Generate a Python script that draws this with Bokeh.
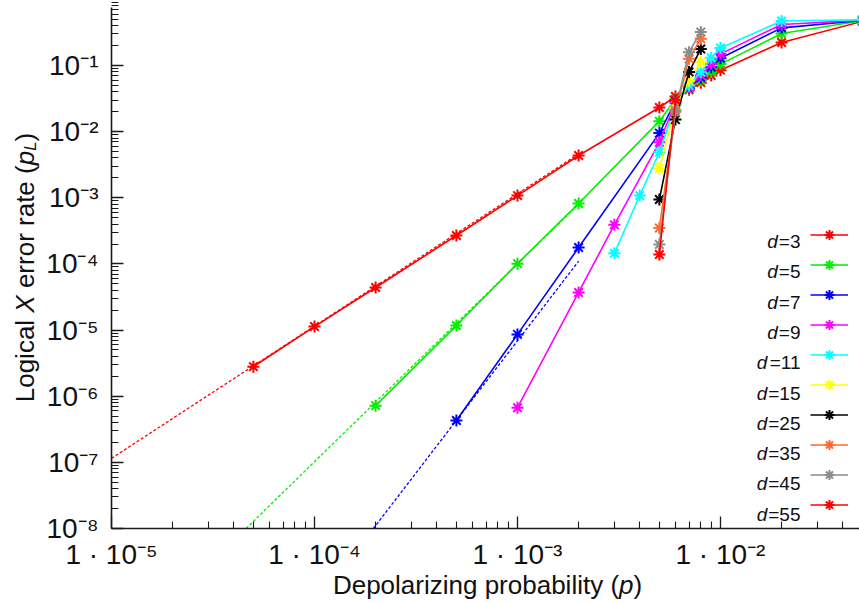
import math
from bokeh.plotting import figure
from bokeh.models import FixedTicker, CustomJSTickFormatter, Label, Legend, LegendItem
from bokeh.embed import file_html
from bokeh.resources import INLINE

FONT = "Liberation Sans"

# ---------------- data ----------------
x_ticks = [1e-5, 1e-4, 1e-3, 1e-2]
x_tick_labels = ["1 · 10⁻⁵", "1 · 10⁻⁴", "1 · 10⁻³", "1 · 10⁻²"]
y_ticks = [1e-8, 1e-7, 1e-6, 1e-5, 1e-4, 1e-3, 1e-2, 1e-1]
y_tick_labels = ["10⁻⁸", "10⁻⁷", "10⁻⁶", "10⁻⁵", "10⁻⁴", "10⁻³", "10⁻²", "10⁻¹"]

d3_p = [5e-5, 1e-4, 2e-4, 5e-4, 1e-3, 2e-3, 5e-3, 6e-3, 7e-3, 8e-3, 9e-3, 1e-2, 2e-2, 5e-2]
d3_pl = [2.8e-6, 1.13e-5, 4.4e-5, 2.69e-4, 1.08e-3, 4.36e-3, 2.32e-2, 3.4e-2, 4.3e-2, 5.5e-2, 7.06e-2, 8.5e-2, 0.223, 0.465]

d5_p = [2e-4, 5e-4, 1e-3, 2e-3, 5e-3, 6e-3, 7e-3, 8e-3, 9e-3, 1e-2, 2e-2, 5e-2]
d5_pl = [7.2e-7, 1.17e-5, 1.01e-4, 8.2e-4, 1.44e-2, 3.1e-2, 4.5e-2, 6.0e-2, 8.0e-2, 0.105, 0.305, 0.475]

d7_p = [5e-4, 1e-3, 2e-3, 5e-3, 6e-3, 7e-3, 8e-3, 9e-3, 1e-2, 2e-2, 5e-2]
d7_pl = [4.3e-7, 8.6e-6, 1.77e-4, 9.5e-3, 2.9e-2, 4.6e-2, 6.6e-2, 9.4e-2, 0.129, 0.371, 0.48]

d9_p = [1e-3, 2e-3, 3e-3, 5e-3, 6e-3, 7e-3, 8e-3, 9e-3, 1e-2, 2e-2, 5e-2]
d9_pl = [6.7e-7, 3.7e-5, 3.9e-4, 6.9e-3, 2.7e-2, 4.7e-2, 7.1e-2, 0.106, 0.150, 0.417, 0.485]

d11_p = [3e-3, 4e-3, 5e-3, 6e-3, 7e-3, 8e-3, 9e-3, 1e-2, 2e-2, 5e-2]
d11_pl = [1.45e-4, 1.08e-3, 4.9e-3, 2.5e-2, 5.0e-2, 7.9e-2, 0.131, 0.184, 0.471, 0.49]

d15_p = [5e-3, 6e-3, 7e-3, 8e-3]
d15_pl = [2.8e-3, 2.3e-2, 5.9e-2, 0.113]

d25_p = [5e-3, 6e-3, 7e-3, 8e-3]
d25_pl = [9.4e-4, 1.52e-2, 8.0e-2, 0.178]

d35_p = [5e-3, 6e-3, 7e-3, 8e-3]
d35_pl = [3.5e-4, 2.0e-2, 0.126, 0.253]

d45_p = [5e-3, 6e-3, 7e-3, 8e-3]
d45_pl = [1.97e-4, 2.1e-2, 0.159, 0.321]

d55_p = [5e-3, 6e-3]
d55_pl = [1.39e-4, 3.0e-2]

# dashed low-p fits (end points)
fit3_p = [1e-5, 2e-3]
fit3_pl = [1.15e-7, 4.6e-3]
fit5_p = [4.6e-5, 2e-3]
fit5_pl = [1e-8, 8.0e-4]
fit7_p = [1.95e-4, 2e-3]
fit7_pl = [1e-8, 1.1e-4]

distances = [3, 5, 7, 9, 11, 15, 25, 35, 45, 55]
colors = ["#ff0000", "#00ee00", "#0000ff", "#ff00ff", "#00ffff",
          "#ffff00", "#000000", "#ff6a2e", "#8c8c8c", "#ff0000"]
series = [(d3_p, d3_pl), (d5_p, d5_pl), (d7_p, d7_pl), (d9_p, d9_pl), (d11_p, d11_pl),
          (d15_p, d15_pl), (d25_p, d25_pl), (d35_p, d35_pl), (d45_p, d45_pl), (d55_p, d55_pl)]
fits = [(fit3_p, fit3_pl, colors[0]), (fit5_p, fit5_pl, colors[1]), (fit7_p, fit7_pl, colors[2])]

# axis extents (the axes themselves), and the visible window around them
X_AX = (1e-5, 0.0484)
Y_AX = (1e-8, 0.75)

# ---------------- figure ----------------
p = figure(width=859, height=603, x_axis_type="log", y_axis_type="log",
           x_range=(10 ** -5.5468, X_AX[1]), y_range=(10 ** -9.134, 10 ** -0.01724),
           output_backend="svg", toolbar_location=None,
           min_border_left=0, min_border_right=0, min_border_top=0, min_border_bottom=0)
p.outline_line_color = None
p.xgrid.visible = False
p.ygrid.visible = False
p.background_fill_color = "white"
p.border_fill_color = "white"

x_minor = [m * 10.0 ** e for e in range(-5, -1) for m in range(2, 10)]
y_minor = [m * 10.0 ** e for e in range(-8, 0) for m in range(2, 10)]
p.xaxis.ticker = FixedTicker(ticks=x_ticks, minor_ticks=x_minor)
p.yaxis.ticker = FixedTicker(ticks=y_ticks, minor_ticks=y_minor)
p.xaxis.fixed_location = Y_AX[0]
p.yaxis.fixed_location = X_AX[0]
p.xaxis.bounds = X_AX
p.yaxis.bounds = Y_AX

fmt_code = """
let best = -1, bd = 1e9;
for (let i = 0; i < tvals.length; i++) {
  const dd = Math.abs(Math.log10(tvals[i]) - Math.log10(tick));
  if (dd < bd) { bd = dd; best = i; }
}
return (bd < 1e-6) ? tlabels[best] : "";
"""
p.xaxis.formatter = CustomJSTickFormatter(args=dict(tvals=x_ticks, tlabels=x_tick_labels), code=fmt_code)
p.yaxis.formatter = CustomJSTickFormatter(args=dict(tvals=y_ticks, tlabels=y_tick_labels), code=fmt_code)

for ax in (p.xaxis[0], p.yaxis[0]):
    ax.axis_line_color = "#1a1a1a"
    ax.axis_line_width = 1.6
    ax.major_tick_line_color = "#1a1a1a"
    ax.minor_tick_line_color = "#1a1a1a"
    ax.major_tick_line_width = 1.3
    ax.minor_tick_line_width = 1.1
    ax.major_tick_in = 12
    ax.major_tick_out = 0
    ax.minor_tick_in = 7
    ax.minor_tick_out = 0
    ax.major_label_text_font = FONT
    ax.major_label_text_font_size = "28px"
    ax.major_label_text_color = "#111111"
p.xaxis.major_label_standoff = 11
p.yaxis.major_label_standoff = 13

# dashed fits
for fx, fy, c in fits:
    p.line(fx, fy, line_color=c, line_width=1.3, line_dash="3 2")

items = []
for d, (sx, sy), c in zip(distances, series, colors):
    lr = p.line(sx, sy, line_color=c, line_width=1.6)
    mr = p.scatter(sx, sy, marker="asterisk", size=12, line_color=c, line_width=2.0)
    items.append(LegendItem(label=" ", renderers=[lr, mr]))

legend = Legend(items=items, location=(810, 86), orientation="vertical",
                glyph_width=38, glyph_height=25, spacing=5,
                label_width=0, label_standoff=0, label_height=25,
                label_text_font_size="1px", padding=0, margin=0,
                border_line_color=None, background_fill_alpha=0)
p.add_layout(legend)

# ---------------- text with mixed styles ----------------
W = {' ': 278, 'D': 722, 'e': 556, 'p': 556, 'o': 556, 'l': 222, 'a': 556, 'r': 333,
     'i': 222, 'z': 500, 'n': 556, 'g': 556, 'b': 556, 't': 278, 'y': 500, '(': 333,
     ')': 333, 'L': 556, 'c': 500, 'X': 667, 'd': 556, '=': 584}
for ch in "0123456789":
    W[ch] = 556


def tw(s, size):
    return sum(W.get(ch, 556) for ch in s) * size / 1000.0


def pieces_row(pieces, x0, y0, vertical=False):
    # pieces: (text, style, size, baseline_shift)
    off = 0.0
    for text, style, size, shift in pieces:
        lead = len(text) - len(text.lstrip(" "))
        off += tw(" " * lead, size)
        t = text.strip(" ")
        if vertical:
            lab = Label(x=x0 + shift, y=y0 + off, x_units="screen", y_units="screen", text=t,
                        angle=math.pi / 2, text_align="left", text_baseline="alphabetic",
                        text_font=FONT, text_font_size=f"{size}px", text_font_style=style,
                        text_color="#111111")
        else:
            lab = Label(x=x0 + off, y=y0 - shift, x_units="screen", y_units="screen", text=t,
                        text_align="left", text_baseline="alphabetic",
                        text_font=FONT, text_font_size=f"{size}px", text_font_style=style,
                        text_color="#111111")
        p.add_layout(lab)
        off += tw(t, size) + tw(" " * (len(text) - len(text.rstrip(" "))), size)


TS = 26
xt = [("Depolarizing probability (", "normal", TS, 0), ("p", "italic", TS, 0), (")", "normal", TS, 0)]
xt_w = sum(tw(t, s) for t, _, s, _ in xt)
pieces_row(xt, 487 - xt_w / 2, 19)

yt = [("Logical ", "normal", TS, 0), ("X", "italic", TS, 0), (" error rate (", "normal", TS, 0),
      ("p", "italic", TS, 0), ("L", "italic", 17, 6), (")", "normal", TS, 0)]
yt_w = sum(tw(t, s) for t, _, s, _ in yt)
pieces_row(yt, 24, 336 - yt_w / 2, vertical=True)

# legend labels  "d=3" etc.
LS = 19
for i, d in enumerate(distances):
    eq = "=" + str(d)
    yb = 362 - 30.3 * i
    p.add_layout(Label(x=800, y=yb, x_units="screen", y_units="screen", text=eq,
                       text_align="right", text_baseline="alphabetic", text_font=FONT,
                       text_font_size=f"{LS}px", text_color="#111111"))
    p.add_layout(Label(x=800 - tw(eq, LS) - 1, y=yb, x_units="screen", y_units="screen", text="d",
                       text_align="right", text_baseline="alphabetic", text_font=FONT,
                       text_font_size=f"{LS}px", text_font_style="italic", text_color="#111111"))

open("out.html", "w").write(file_html(p, INLINE))
